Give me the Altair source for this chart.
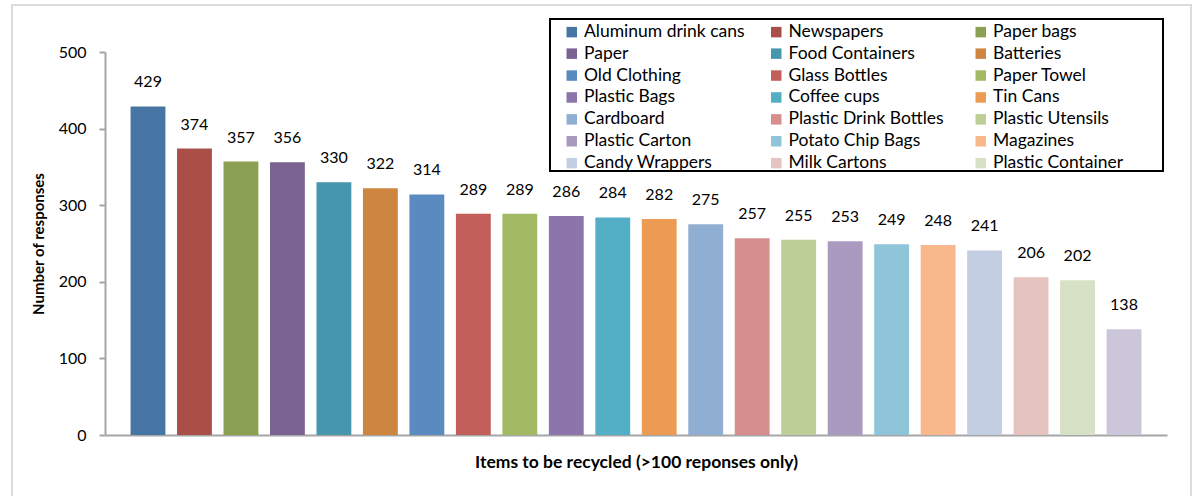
import altair as alt
import pandas as pd

# Recycling survey: items with more than 100 responses, in descending order
items = [
    "Aluminum drink cans", "Newspapers", "Paper bags", "Paper", "Food Containers",
    "Batteries", "Old Clothing", "Glass Bottles", "Paper Towel", "Plastic Bags",
    "Coffee cups", "Tin Cans", "Cardboard", "Plastic Drink Bottles", "Plastic Utensils",
    "Plastic Carton", "Potato Chip Bags", "Magazines", "Candy Wrappers", "Milk Cartons",
    "Plastic Container", "Other",
]
responses = [429, 374, 357, 356, 330, 322, 314, 289, 289, 286, 284,
             282, 275, 257, 255, 253, 249, 248, 241, 206, 202, 138]
colors = [
    "#4876A4", "#AA4F48", "#8BA052", "#7A6390", "#4697AD", "#CE8540",
    "#5A8BC0", "#C35F5A", "#A2BA64", "#8C75AA", "#52AFC6", "#EC9C52",
    "#90ADD2", "#D68F8E", "#BDCF96", "#AA9AC0", "#8FC5D8", "#F9B78C",
    "#C4CEE2", "#E5C3C1", "#D7E1C6", "#CCC6DB",
]
legend_items = items[:21]

df = pd.DataFrame({"item": items, "responses": responses, "rank": list(range(1, len(items) + 1))})

FONT = "Lato"
W, H = 1062, 383

x = alt.X("rank:O", title="Items to be recycled (>100 reponses only)",
          scale=alt.Scale(paddingInner=0.25, paddingOuter=0.55),
          axis=alt.Axis(labels=False, ticks=False, domainColor="#a6a6a6", domainWidth=2,
                        titleFont=FONT, titleFontSize=17.5, titleFontWeight="bold",
                        titleColor="#000000", titlePadding=18))
y = alt.Y("responses:Q", title="Number of responses",
          scale=alt.Scale(domain=[0, 500]),
          axis=alt.Axis(values=[0, 100, 200, 300, 400, 500], grid=False,
                        domainColor="#a6a6a6", domainWidth=2, tickColor="#a6a6a6",
                        tickWidth=2, tickSize=6, labelPadding=13, labelFont=FONT,
                        labelFontSize=16, labelColor="#000000", titleFont=FONT,
                        titleFontSize=15, titleFontWeight="bold", titleColor="#000000",
                        titlePadding=12))

color = alt.Color("item:N",
                  scale=alt.Scale(domain=items, range=colors),
                  legend=alt.Legend(values=legend_items, title=None, orient="none",
                                    legendX=458, legendY=-29, columns=3, direction="horizontal",
                                    gridAlign="all", symbolType="square", symbolSize=110,
                                    symbolStrokeWidth=0, symbolOpacity=1, labelFont=FONT,
                                    labelFontSize=17.5, labelColor="#000000", labelLimit=300,
                                    columnPadding=22.5, rowPadding=2.9, padding=0,
                                    labelOffset=3.5))

bars = alt.Chart(df).mark_bar().encode(x=x, y=y, color=color)

labels = alt.Chart(df).mark_text(font=FONT, fontSize=16, color="#000000",
                                 baseline="middle", dy=-24).encode(
    x="rank:O", y="responses:Q", text="responses:Q")

# light outer frame around the whole figure
frame = alt.Chart(df).mark_rect(fill=None, stroke="#dcdcdc", strokeWidth=2).encode(
    x=alt.value(-93), x2=alt.value(1086), y=alt.value(-47), y2=alt.value(470))

# white box with black border behind the legend
legend_box = alt.Chart(df).mark_rect(fill="#ffffff", stroke="#000000", strokeWidth=2).encode(
    x=alt.value(445), x2=alt.value(1058), y=alt.value(-33), y2=alt.value(119))

chart = alt.layer(frame, bars, labels, legend_box).properties(
    width=W, height=H,
    autosize=alt.AutoSizeParams(type="none"),
    padding={"left": 105, "top": 52, "right": 26, "bottom": 61},
).configure_view(stroke=None)

chart.save("out.html", embed_options={"renderer": "svg", "actions": False})
